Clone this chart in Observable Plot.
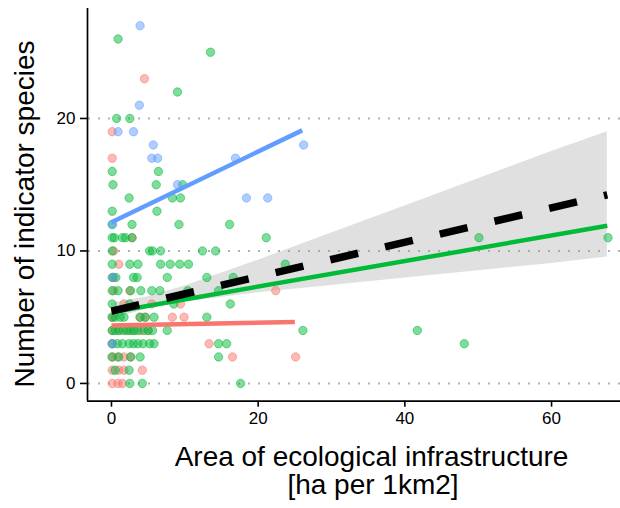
<!DOCTYPE html>
<html><head><meta charset="utf-8">
<script src="https://cdn.jsdelivr.net/npm/d3@7"></script>
<script src="https://cdn.jsdelivr.net/npm/@observablehq/plot@0.6"></script>
<style>html,body{margin:0;padding:0;background:#fff}svg{display:block}</style>
</head><body><div id="chart"></div>
<script>
// ---- data ----
const greenX = [0.9, 13.5, 9.0, 0.7, 2.5, 0.1, 6.4, 0.2, 6.1, 9.7, 2.4, 8.3, 9.4, 0.1, 6.2,
  0.1, 2.8, 9.2, 16.1,
  0.1, 0.4, 1.5, 1.9, 2.8, 21.1, 50.1, 67.7,
  0.1, 5.2, 5.6, 6.7, 12.4, 14.2,
  0.1, 2.5, 3.6, 6.7, 8.0, 9.3, 10.5, 23.7,
  0.1, 0.6, 3.0, 3.5, 7.6, 13.0, 16.6,
  0.1, 0.9, 2.6, 4.0, 5.5, 6.6, 10.4, 14.6,
  0.1, 2.5, 8.5, 16.2,
  0.1, 0.5, 1.2, 1.7, 3.9, 4.6, 5.8, 13.0,
  0.1, 0.5, 1.0, 1.6, 2.2, 2.6, 3.1, 3.6, 4.4, 5.0, 5.6, 7.6, 26.1, 41.7,
  0.1, 0.8, 1.5, 2.4, 3.0, 3.6, 4.3, 5.2, 5.8, 14.6, 15.7, 48.1,
  0.1, 1.0, 2.6, 3.9, 14.6,
  0.5, 2.4,
  2.5, 4.2, 17.6];
const greenY = [26, 25, 22, 20, 20, 16, 16, 15, 15, 15, 14, 14, 14, 13, 13,
  12, 12, 12, 12,
  11, 11, 11, 11, 11, 11, 11, 11,
  10, 10, 10, 10, 10, 10,
  9, 9, 9, 9, 9, 9, 9, 9,
  8, 8, 8, 8, 8, 8, 8,
  7, 7, 7, 7, 7, 7, 7, 7,
  6, 6, 6, 6,
  5, 5, 5, 5, 5, 5, 5, 5,
  4, 4, 4, 4, 4, 4, 4, 4, 4, 4, 4, 4, 4, 4,
  3, 3, 3, 3, 3, 3, 3, 3, 3, 3, 3, 3,
  2, 2, 2, 2, 2,
  1, 1,
  0, 0, 0];

const redX = [4.5, 0.1, 0.1, 2.8, 0.3, 1.0, 0.3, 0.3, 2.5, 22.4, 1.7, 5.5, 9.4,
  0.1, 3.9, 4.6, 8.3, 9.9, 0.1, 1.0, 2.0, 3.0, 4.0, 5.0, 0.1, 13.3,
  0.1, 0.8, 1.7, 2.6, 16.5, 25.1, 0.1, 1.0, 1.7, 4.2, 0.1, 0.9, 1.5];
const redY = [23, 19, 17, 11, 10, 9, 8, 7, 7, 7, 6, 6, 6,
  5, 5, 5, 5, 5, 4, 4, 4, 4, 4, 4, 3, 3,
  2, 2, 2, 2, 2, 2, 1, 1, 1, 1, 0, 0, 0];

const blueX = [3.9, 3.8, 0.9, 3.0, 5.7, 26.2, 5.5, 6.3, 16.9, 9.0, 18.4, 21.3, 0.1, 0.2, 0.1];
const blueY = [27, 21, 19, 19, 18, 18, 17, 17, 17, 15, 14, 14, 12, 8, 3];

// group fit lines (start / end)
const redFitX = [0, 25.0],   redFitY = [4.38, 4.63];
const greenFitX = [0, 67.6], greenFitY = [5.38, 11.9];
const blueFitX = [0, 26.0],  blueFitY = [12.17, 19.1];

// overall fit (dashed) and its confidence band
const allFitX = [0, 67.6], allFitY = [5.46, 14.24];
const bandX  = [0, 5, 10, 20, 30, 40, 50, 60, 67.6];
const bandLo = [4.85, 5.65, 6.15, 6.85, 7.4, 7.95, 8.5, 9.05, 9.55];
const bandHi = [6.05, 6.55, 7.35, 9.3, 11.35, 13.4, 15.45, 17.5, 19.0];

const xTicks = [0, 20, 40, 60];
const yTicks = [0, 10, 20];
const groups = ["groupA", "groupB", "groupC"];
const groupColors = ["#F8766D", "#00BA38", "#619CFF"];

// ---- build tables ----
const pts = [];
const addPts = (xs, ys, g) => xs.forEach((x, i) => pts.push({x, y: ys[i], g}));
addPts(redX, redY, groups[0]);
addPts(greenX, greenY, groups[1]);
addPts(blueX, blueY, groups[2]);

const fits = [];
const addFit = (xs, ys, g) => xs.forEach((x, i) => fits.push({x, y: ys[i], g}));
addFit(redFitX, redFitY, groups[0]);
addFit(greenFitX, greenFitY, groups[1]);
addFit(blueFitX, blueFitY, groups[2]);

const overall = allFitX.map((x, i) => ({x, y: allFitY[i]}));
const band = bandX.map((x, i) => ({x, lo: bandLo[i], hi: bandHi[i]}));

const xMin = -3.27, yMin = -1.34;

const svg = Plot.plot({
  width: 620, height: 508,
  marginLeft: 87, marginRight: 0, marginTop: 8, marginBottom: 107.3,
  x: {domain: [xMin, 69.4]},
  y: {domain: [yMin, 28.3]},
  color: {type: "ordinal", domain: groups, range: groupColors},
  style: {fontFamily: "'Liberation Sans', Arial, Helvetica, sans-serif", fontSize: "17px", color: "#000", background: "#fff"},
  marks: [
    Plot.ruleY(yTicks, {stroke: "#b0b0b0", strokeWidth: 2, strokeDasharray: "2,8", strokeDashoffset: -1}),
    Plot.areaY(band, {x: "x", y1: "lo", y2: "hi", fill: "#999", fillOpacity: 0.3}),
    Plot.dot(pts, {x: "x", y: "y", r: 4.2, fill: "g", stroke: "g", fillOpacity: 0.5, strokeOpacity: 0.5, strokeWidth: 1}),
    Plot.line(fits, {x: "x", y: "y", z: "g", stroke: "g", strokeWidth: 4.5, strokeLinecap: "butt"}),
    Plot.line(overall, {x: "x", y: "y", stroke: "#000", strokeWidth: 7.5, strokeDasharray: "28.5,27.7", strokeLinecap: "butt"}),
    Plot.axisX({ticks: xTicks, tickSize: 6, tickPadding: 5, fontSize: 17, label: null, strokeWidth: 1.6}),
    Plot.axisY({ticks: yTicks, tickSize: 7, tickPadding: 5, fontSize: 17, label: null, strokeWidth: 1.6}),
    Plot.ruleX([xMin], {stroke: "#000", strokeWidth: 1.7}),
    Plot.ruleY([yMin], {stroke: "#000", strokeWidth: 1.7})
  ]
});

const s = d3.select(svg);
s.append("text").attr("transform", "translate(34,214) rotate(-90)")
  .attr("text-anchor", "middle").attr("font-size", 28).attr("fill", "#000")
  .text("Number of indicator species");
s.append("text").attr("x", 371.5).attr("y", 466)
  .attr("text-anchor", "middle").attr("font-size", 28).attr("fill", "#000")
  .text("Area of ecological infrastructure");
s.append("text").attr("x", 373).attr("y", 494)
  .attr("text-anchor", "middle").attr("font-size", 28).attr("fill", "#000")
  .text("[ha per 1km2]");

document.getElementById("chart").appendChild(svg);
</script>
</body></html>
